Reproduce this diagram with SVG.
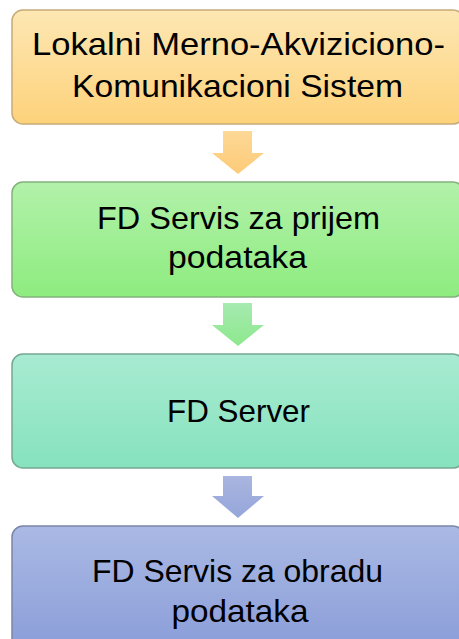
<svg xmlns="http://www.w3.org/2000/svg" width="459" height="639" viewBox="0 0 459 639">
<style>
.box{stroke-width:1.5}
.t{font-family:"Liberation Sans",Arial,sans-serif;font-size:32px;fill:#000;text-anchor:middle}
</style>
<defs>
<linearGradient id="gO" x1="0" y1="0" x2="0" y2="1"><stop offset="0" stop-color="#fde7b3"/><stop offset="1" stop-color="#fdd27b"/></linearGradient>
<linearGradient id="gG" x1="0" y1="0" x2="0" y2="1"><stop offset="0" stop-color="#b2f1aa"/><stop offset="1" stop-color="#8eec7f"/></linearGradient>
<linearGradient id="gT" x1="0" y1="0" x2="0" y2="1"><stop offset="0" stop-color="#a8ebd2"/><stop offset="1" stop-color="#86e2be"/></linearGradient>
<linearGradient id="gB" x1="0" y1="0" x2="0" y2="1"><stop offset="0" stop-color="#aab9e4"/><stop offset="1" stop-color="#8a9dd8"/></linearGradient>
<linearGradient id="aO" x1="0" y1="0" x2="0" y2="1"><stop offset="0" stop-color="#fdd896"/><stop offset="1" stop-color="#fdcb78"/></linearGradient>
<linearGradient id="aG" x1="0" y1="0" x2="0" y2="1"><stop offset="0" stop-color="#a6eab0"/><stop offset="1" stop-color="#8de88d"/></linearGradient>
<linearGradient id="aB" x1="0" y1="0" x2="0" y2="1"><stop offset="0" stop-color="#aab5e0"/><stop offset="1" stop-color="#95a6da"/></linearGradient>
</defs>
<g id="connectors">
<path d="M223,131 H252 V153 H264 L238,174 L212,153 H223 Z" fill="url(#aO)"/>
<path d="M223,303 H252 V325 H264 L238,346 L212,325 H223 Z" fill="url(#aG)"/>
<path d="M223,476 H252 V496 H264 L238,518 L212,496 H223 Z" fill="url(#aB)"/>
</g>
<g id="node1">
<rect class="box" x="12" y="10" width="452" height="114" rx="11" fill="url(#gO)" stroke="#c7ab78"/>
<text class="t" x="238.5" y="55" textLength="413" lengthAdjust="spacingAndGlyphs">Lokalni Merno-Akviziciono-</text>
<text class="t" x="237.5" y="97" textLength="331" lengthAdjust="spacingAndGlyphs">Komunikacioni Sistem</text>
</g>
<g id="node2">
<rect class="box" x="12" y="182" width="452" height="115" rx="11" fill="url(#gG)" stroke="#83b27a"/>
<text class="t" x="238.5" y="229" textLength="283" lengthAdjust="spacingAndGlyphs">FD Servis za prijem</text>
<text class="t" x="237.5" y="268" textLength="139" lengthAdjust="spacingAndGlyphs">podataka</text>
</g>
<g id="node3">
<rect class="box" x="12" y="354" width="452" height="114" rx="11" fill="url(#gT)" stroke="#74a893"/>
<text class="t" x="238.5" y="422" textLength="143" lengthAdjust="spacingAndGlyphs">FD Server</text>
</g>
<g id="node4">
<rect class="box" x="12" y="526" width="452" height="125" rx="11" fill="url(#gB)" stroke="#7b86a6"/>
<text class="t" x="237.5" y="582" textLength="291" lengthAdjust="spacingAndGlyphs">FD Servis za obradu</text>
<text class="t" x="240" y="622" textLength="137" lengthAdjust="spacingAndGlyphs">podataka</text>
</g>
</svg>
